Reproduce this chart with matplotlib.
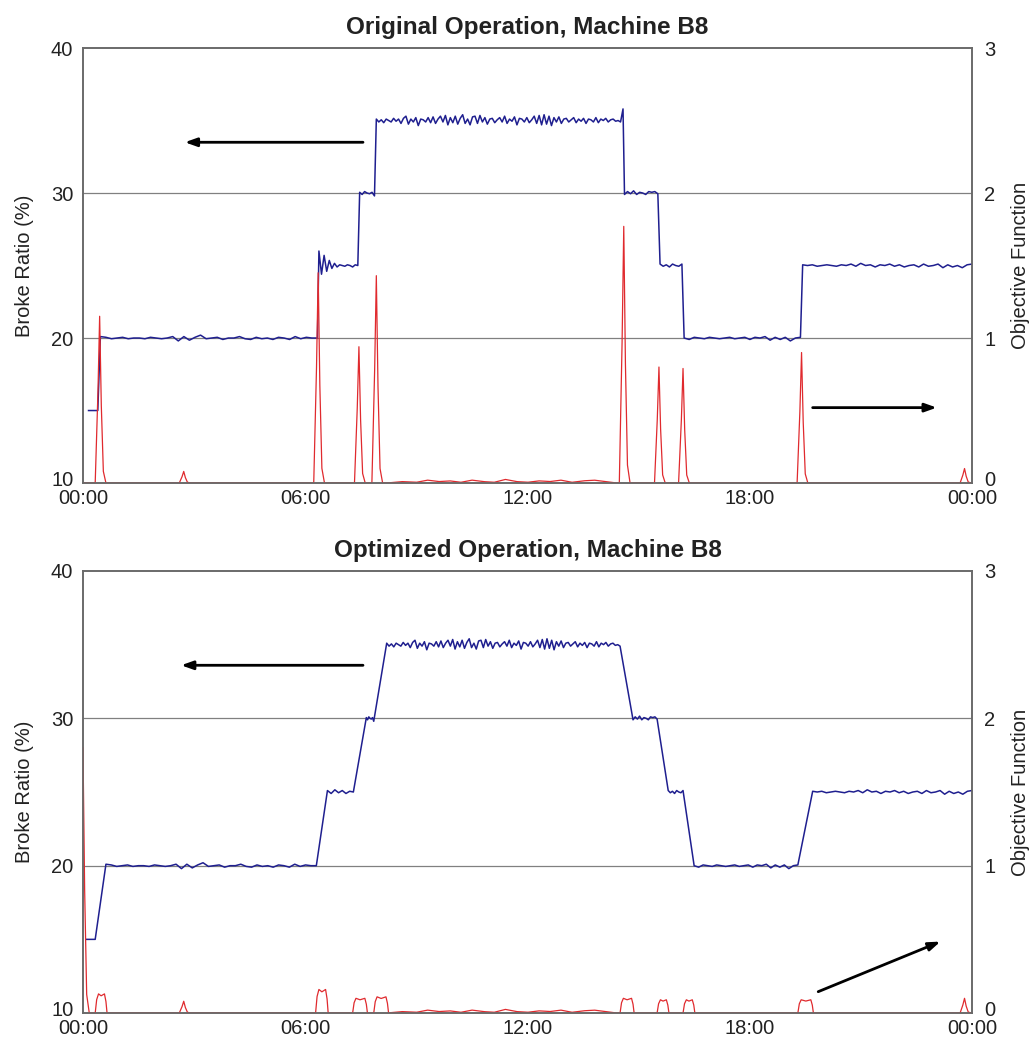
import numpy as np
import matplotlib
matplotlib.use("Agg")
import matplotlib.pyplot as plt
from matplotlib.transforms import ScaledTranslation

plt.rcParams['font.family'] = ['Liberation Sans', 'DejaVu Sans']

# ---------------- axis texts ----------------
titles = ["Original Operation, Machine B8", "Optimized Operation, Machine B8"]
left_label = "Broke Ratio (%)"
right_label = "Objective Function"
xtick_hours = [0, 6, 12, 18, 24]
xtick_labels = ["00:00", "06:00", "12:00", "18:00", "00:00"]
left_ticks = [10, 20, 30, 40]
right_ticks = [0, 1, 2, 3]

# ---------------- broke ratio plateaus (%) ----------------
levels = [15, 20, 25, 30, 35, 30, 25, 20, 25]
orig_start = [0.15, 0.47, 6.37, 7.47, 7.92, 14.62, 15.58, 16.23, 19.43]
orig_end = [0.40, 6.33, 7.42, 7.87, 14.58, 15.52, 16.17, 19.37, 24.0]
opt_start = [0.10, 0.62, 6.60, 7.65, 8.20, 14.85, 15.80, 16.50, 19.70]
opt_end = [0.33, 6.30, 7.30, 7.85, 14.50, 15.50, 16.20, 19.30, 24.0]

# deviations
dev15 = [0.0, 0.0]
dev20a = [0.1, 0.05, -0.05, 0.0, 0.05, -0.05, 0.0, 0.0, -0.05, 0.05,
          0.0, -0.05, 0.0, 0.1, -0.2, 0.1, -0.15, 0.05, 0.2, -0.05,
          0.0, 0.05, -0.1, 0.0, 0.0, 0.1, -0.05, -0.1, 0.05, -0.05,
          0.0, -0.1, 0.05, 0.0, -0.1, 0.1, -0.05, 0.05, 0.0, 0.0]
orig_dev25a = [1.0, -0.6, 0.7, -0.4, 0.35, -0.2, 0.15, -0.1, 0.05, 0.0,
               -0.05, 0.05, 0.0, -0.1, 0.05, 0.0]
opt_dev25a = [0.1, -0.1, 0.15, -0.05, 0.1, -0.1, 0.05, 0.0]
dev30a = [0.05, -0.1, 0.1, 0.0, -0.05, 0.05, -0.2]
dev35 = [0.1, -0.1, 0.05, -0.15, 0.1, 0.0, -0.1, 0.15, -0.05, 0.1,
         -0.2, 0.15, 0.3, -0.25, 0.1, -0.1, 0.2, -0.35, 0.1, 0.05,
         -0.1, 0.2, -0.15, 0.25, -0.2, 0.1, 0.3, -0.1, 0.35, -0.3,
         0.2, -0.15, 0.3, -0.25, 0.15, 0.4, -0.2, 0.1, -0.3, 0.25,
         0.3, -0.2, 0.35, -0.1, 0.2, -0.25, 0.1, 0.15, -0.15, 0.05,
         0.2, -0.1, 0.3, -0.2, 0.1, -0.05, 0.25, -0.3, 0.15, 0.1,
         -0.1, 0.2, -0.15, 0.05, 0.3, -0.2, 0.35, -0.3, 0.4, -0.25,
         0.3, -0.35, 0.2, -0.1, 0.25, -0.2, 0.1, 0.15, -0.1, 0.05,
         0.2, -0.15, 0.1, -0.05, 0.15, -0.2, 0.1, 0.05, -0.1, 0.2,
         -0.15, 0.1, 0.0, 0.15, -0.1, 0.05, 0.1, -0.05, 0.0, -0.1]
orig_peak35 = [0.8]
dev30b = [-0.1, 0.1, -0.05, 0.15, -0.1, 0.05, 0.0, -0.1, 0.1, 0.05, 0.1, -0.05]
dev25b = [0.1, -0.05, 0.05, -0.1, 0.1, 0.0, -0.05, 0.1]
dev20b = [0.0, -0.1, 0.05, 0.0, -0.05, 0.05, 0.0, -0.05, 0.0, 0.05,
          -0.05, 0.0, 0.05, -0.1, 0.05, 0.0, 0.1, -0.15, 0.05, -0.1,
          0.05, -0.2, 0.0, 0.05]
dev25c = [0.05, 0.0, 0.05, -0.05, 0.0, 0.05, 0.0, -0.05, 0.05, 0.0,
          0.1, -0.05, 0.15, 0.0, 0.05, -0.1, 0.05, 0.0, 0.1, -0.05,
          0.05, -0.1, 0.0, 0.05, -0.1, 0.1, -0.05, 0.0, 0.1, -0.15,
          0.05, -0.1, 0.0, -0.15, 0.05, 0.1]

orig_devs = [dev15, dev20a, orig_dev25a, dev30a, dev35 + orig_peak35,
             dev30b, dev25b, dev20b, dev25c]
opt_devs = [dev15, dev20a, opt_dev25a, dev30a, dev35,
            dev30b, dev25b, dev20b, dev25c]

# ---------------- objective function ----------------
# original operation: sharp spikes (hour, height)
orig_spike_hours = [0.45, 2.72, 6.35, 7.45, 7.92, 14.60, 15.55, 16.20, 19.40, 23.80]
orig_spike_heights = [1.15, 0.08, 1.45, 0.94, 1.43, 1.77, 0.80, 0.79, 0.90, 0.10]
# optimized operation: low humps (start hour, end hour, height)
opt_hump_start = [0.33, 6.28, 7.28, 7.85, 14.50, 15.50, 16.20, 19.30]
opt_hump_end = [0.65, 6.62, 7.68, 8.25, 14.88, 15.82, 16.52, 19.72]
opt_hump_height = [0.13, 0.16, 0.10, 0.11, 0.10, 0.09, 0.09, 0.09]
opt_spike_hours = [0.0, 2.72, 23.80]
opt_spike_heights = [1.80, 0.08, 0.10]
# small baseline wiggle of the objective
base_hours = [0.0, 8.2, 8.6, 9.0, 9.3, 9.6, 9.9, 10.2, 10.5, 10.8, 11.1, 11.4,
              11.7, 12.0, 12.3, 12.6, 12.9, 13.2, 13.5, 13.8, 14.1, 14.4, 24.0]
base_values = [0.0, 0.0, 0.01, 0.005, 0.02, 0.01, 0.015, 0.005, 0.02, 0.01,
               0.005, 0.025, 0.01, 0.005, 0.015, 0.01, 0.02, 0.005, 0.015,
               0.02, 0.01, 0.0, 0.0]

BLUE = "#1f1f8f"
RED = "#e02a2e"
GRID = "#808080"
SPINE = "#6a6a6a"
TXT = "#222222"


def broke_series(starts, ends, devs):
    t_all, v_all = [], []
    for lv, s, e, d in zip(levels, starts, ends, devs):
        t = np.linspace(s, e, len(d))
        t_all.append(t)
        v_all.append(lv + np.asarray(d))
    return np.concatenate(t_all), np.concatenate(v_all)


grid_t = np.arange(0.0, 24.0001, 0.005)
spike_off = [-0.12, -0.05, 0.0, 0.04, 0.10, 0.17]
spike_fac = [0.0, 0.5, 1.0, 0.5, 0.07, 0.0]
hump_fac = [0.0, 0.7, 1.0, 0.9, 1.0, 0.6, 0.0]


def objective(spike_h, spike_v, hump_s=(), hump_e=(), hump_v=()):
    y = np.interp(grid_t, base_hours, base_values)
    for c, h in zip(spike_h, spike_v):
        xs = [c + o for o in spike_off]
        ys = [h * f for f in spike_fac]
        y = np.maximum(y, np.interp(grid_t, xs, ys, left=0, right=0))
    for s, e, h in zip(hump_s, hump_e, hump_v):
        xs = [s, s + 0.04, s + 0.09, (s + e) / 2, e - 0.07, e - 0.03, e]
        ys = [h * f for f in hump_fac]
        y = np.maximum(y, np.interp(grid_t, xs, ys, left=0, right=0))
    return y


fig = plt.figure(figsize=(10.32, 10.37), dpi=100)
positions = [[0.0804, 0.5342, 0.8614, 0.4195], [0.0804, 0.0231, 0.8614, 0.4263]]

series_blue = [broke_series(orig_start, orig_end, orig_devs),
               broke_series(opt_start, opt_end, opt_devs)]
series_red = [objective(orig_spike_hours, orig_spike_heights),
              objective(opt_spike_hours, opt_spike_heights,
                        opt_hump_start, opt_hump_end, opt_hump_height)]
arrows = [
    [((7.56, 33.5), (2.75, 33.5)), ((19.7, 15.2), (23.05, 15.2))],
    [((7.56, 33.6), (2.65, 33.6)), ((19.85, 11.45), (23.15, 14.85))],
]

lift = ScaledTranslation(0, 3 / 72, fig.dpi_scale_trans)

for i in range(2):
    ax = fig.add_axes(positions[i])
    ax2 = ax.twinx()
    ax.set_xlim(0, 24)
    ax.set_ylim(10, 40)
    ax2.set_ylim(0, 3)
    for yv in [20, 30]:
        ax.axhline(yv, color=GRID, lw=0.9, zorder=0)
    tb, vb = series_blue[i]
    ax.plot(tb, vb, color=BLUE, lw=1.1, zorder=3)
    ax2.plot(grid_t, series_red[i], color=RED, lw=0.9, zorder=2)
    for (x0, y0), (x1, y1) in arrows[i]:
        ax.annotate("", xy=(x1, y1), xytext=(x0, y0),
                    arrowprops=dict(arrowstyle="-|>,head_length=0.7,head_width=0.25",
                                    color="black", lw=2.0, shrinkA=0, shrinkB=0))
    ax.set_xticks(xtick_hours)
    ax.set_xticklabels(xtick_labels)
    ax.set_yticks(left_ticks)
    ax2.set_yticks(right_ticks)
    ax.tick_params(axis='both', length=0, labelsize=14.5, colors=TXT)
    ax.tick_params(axis='y', pad=7)
    ax.tick_params(axis='x', pad=4)
    ax2.tick_params(axis='y', length=0, labelsize=14.5, colors=TXT, pad=9)
    for a in (ax, ax2):
        for sp in a.spines.values():
            sp.set_color(SPINE)
            sp.set_linewidth(1.2)
    ax.set_ylabel(left_label, fontsize=14.5, color=TXT, labelpad=12)
    ax2.set_ylabel(right_label, fontsize=14.5, color=TXT, labelpad=11)
    ax.set_title(titles[i], fontsize=17.5, fontweight='bold', color=TXT, pad=10)
    ax.set_zorder(1)
    ax2.set_zorder(2)
    ax.patch.set_visible(True)
    ax2.patch.set_visible(False)
    fig.canvas.draw()
    for lab in (ax.get_yticklabels()[0], ax2.get_yticklabels()[0]):
        lab.set_transform(lab.get_transform() + lift)

fig.savefig("out.png", dpi=100)
